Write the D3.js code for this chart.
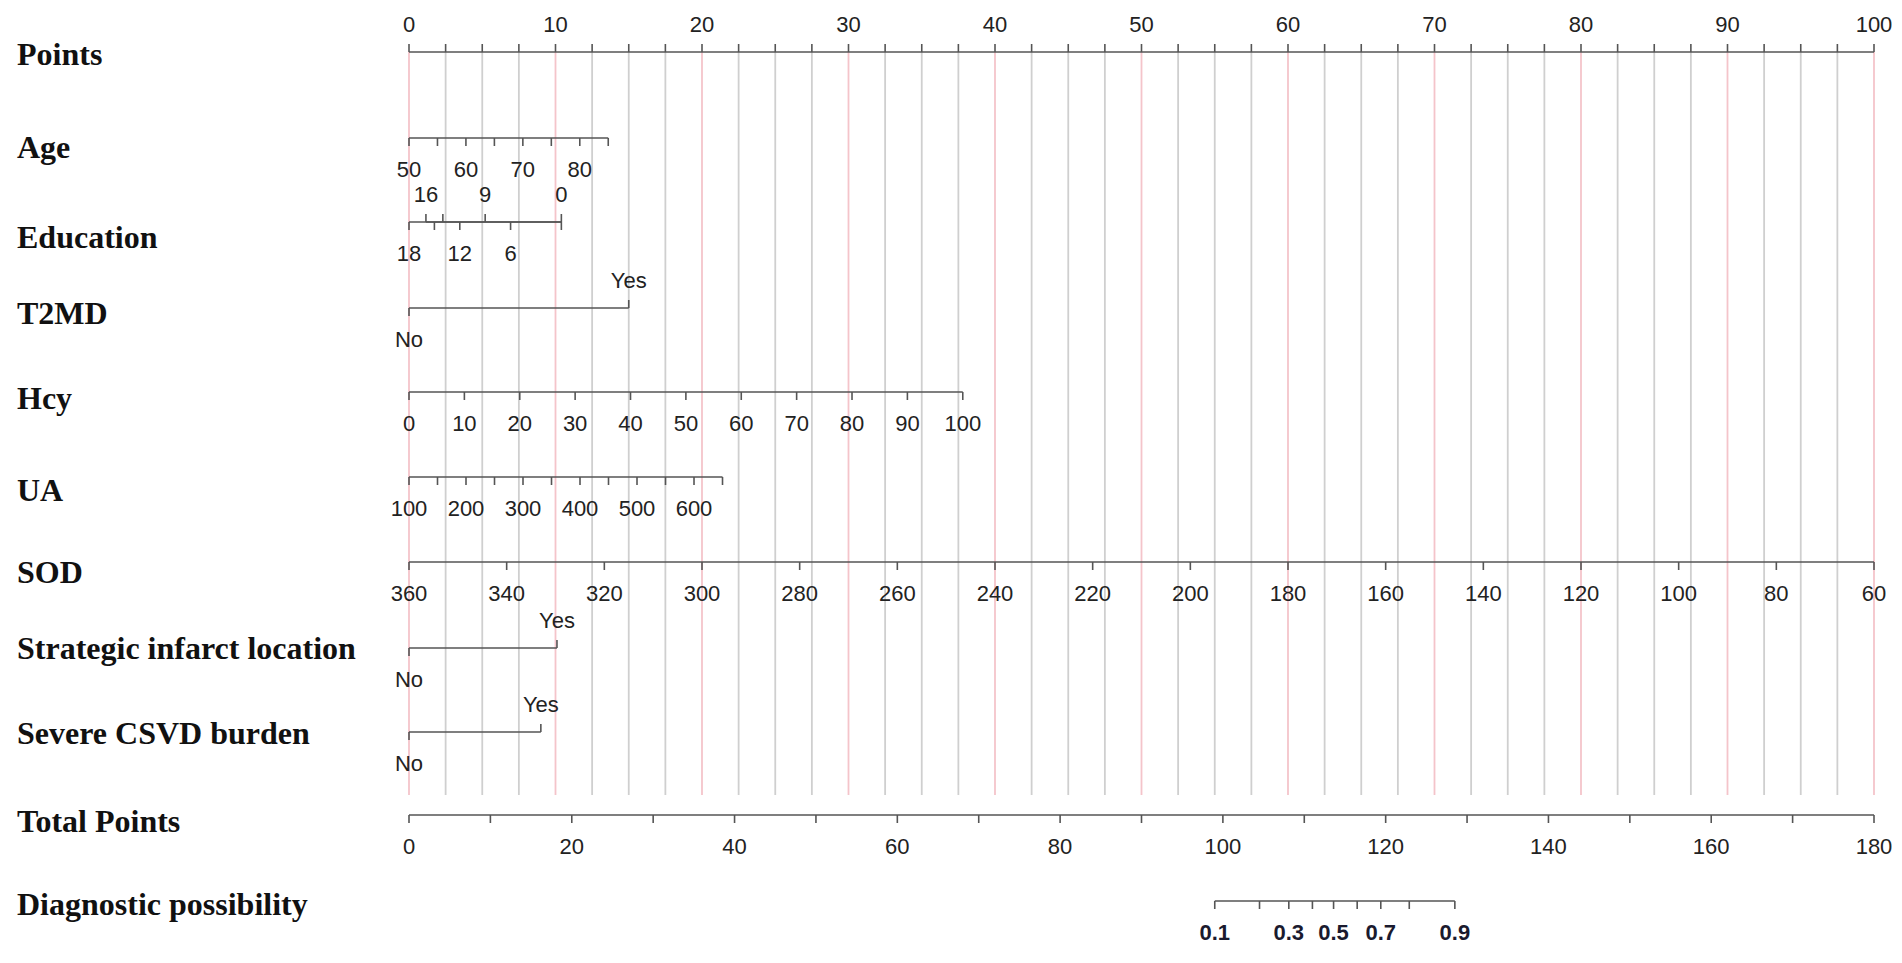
<!DOCTYPE html>
<html>
<head>
<meta charset="utf-8">
<script src="https://cdn.jsdelivr.net/npm/d3@7"></script>
<style>
  body { margin: 0; background: #fff; }
  .tick-label { font-family: Arial, "Liberation Sans", sans-serif; font-size: 22px; fill: #222; }
  .row-label { font-family: "Liberation Serif", "Times New Roman", serif; font-weight: bold; font-size: 32px; fill: #111; }
</style>
</head>
<body>
<svg id="chart" width="1902" height="963"></svg>
<script>
// nomogram data
var rowNames = ['Points', 'Age', 'Education', 'T2MD', 'Hcy', 'UA', 'SOD',
  'Strategic infarct location', 'Severe CSVD burden', 'Total Points', 'Diagnostic possibility'];

var ageValues = [50, 55, 60, 65, 70, 75, 80, 85];
var ageLabels = [50, 60, 70, 80];
var ageDomain = [50, 85];
var agePoints = [0, 13.6];

var eduBelow = [18, 15, 12, 6];
var eduBelowLabels = [18, 12, 6];
var eduAbove = [16, 14, 9, 0];
var eduAboveLabels = [16, 9, 0];
var eduDomain = [18, 0];
var eduPoints = [0, 10.4];

var t2mdPoints = [0, 15.0];       // No, Yes
var strategicPoints = [0, 10.1];
var csvdPoints = [0, 9.0];

var hcyValues = [0, 10, 20, 30, 40, 50, 60, 70, 80, 90, 100];
var hcyDomain = [0, 100];
var hcyPoints = [0, 37.8];

var uaValues = [100, 150, 200, 250, 300, 350, 400, 450, 500, 550, 600, 650];
var uaLabels = [100, 200, 300, 400, 500, 600];
var uaDomain = [100, 650];
var uaPoints = [0, 21.4];

var sodValues = [360, 340, 320, 300, 280, 260, 240, 220, 200, 180, 160, 140, 120, 100, 80, 60];
var sodDomain = [360, 60];
var sodPoints = [0, 100];

var totalValues = d3.range(0, 181, 10);
var totalLabels = d3.range(0, 181, 20);

var probValues = [0.1, 0.2, 0.3, 0.4, 0.5, 0.6, 0.7, 0.8, 0.9];
var probTotals = [99.0, 104.5, 108.1, 111.0, 113.6, 116.5, 119.4, 122.9, 128.5];
var probLabels = [0.1, 0.3, 0.5, 0.7, 0.9];

// layout
var rowLineY = [52, 138, 222, 308, 392, 477, 562, 648, 732, 815, 901];
var rowTextY = [65, 158, 248, 324, 409, 501, 583, 659, 744, 832, 915];
var tickLen = 8;

var svg = d3.select('#chart');
var x = d3.scaleLinear().domain([0, 100]).range([409, 1874]);
var xTotal = d3.scaleLinear().domain([0, 180]).range([409, 1874]);

// vertical grid
svg.append('g').selectAll('line')
  .data(d3.range(0, 100.1, 2.5))
  .join('line')
  .attr('x1', d => x(d)).attr('x2', d => x(d))
  .attr('y1', rowLineY[0]).attr('y2', 795)
  .attr('stroke', d => d % 10 === 0 ? '#f4c4ca' : '#cfcfcf')
  .attr('stroke-width', 1.8);

// row labels
svg.append('g').selectAll('text')
  .data(rowNames)
  .join('text')
  .attr('class', 'row-label')
  .attr('x', 17)
  .attr('y', (d, i) => rowTextY[i])
  .text(d => d);

function drawAxis(y, xs, ticks, labels, side, fmt, bold) {
  var g = svg.append('g');
  var xExt = d3.extent(ticks.map(xs));
  g.append('line')
    .attr('x1', xExt[0]).attr('x2', xExt[1])
    .attr('y1', y).attr('y2', y)
    .attr('stroke', '#555').attr('stroke-width', 1.6);
  var dir = side === 'above' ? -1 : 1;
  g.selectAll('.tk').data(ticks).join('line')
    .attr('x1', xs).attr('x2', xs)
    .attr('y1', y).attr('y2', y + dir * tickLen)
    .attr('stroke', '#555').attr('stroke-width', 1.6);
  g.selectAll('text').data(labels).join('text')
    .attr('class', 'tick-label')
    .attr('x', xs)
    .attr('y', side === 'above' ? y - 20 : y + 39)
    .attr('text-anchor', 'middle')
    .style('font-weight', bold ? 'bold' : null)
    .style('fill', bold ? '#1a1a2e' : null)
    .text(fmt || (d => d));
}

function mapped(domain, pts) {
  var s = d3.scaleLinear().domain(domain).range(pts);
  return d => x(s(d));
}

// Points
drawAxis(rowLineY[0], x, d3.range(0, 100.1, 2.5), d3.range(0, 101, 10), 'above');
// Age
drawAxis(rowLineY[1], mapped(ageDomain, agePoints), ageValues, ageLabels, 'below');
// Education (ticks on both sides)
var eduX = mapped(eduDomain, eduPoints);
drawAxis(rowLineY[2], eduX, eduBelow.concat([0]), eduBelowLabels, 'below');
drawAxis(rowLineY[2], eduX, eduAbove, eduAboveLabels, 'above');

// binary rows
function drawBinary(y, pts) {
  var g = svg.append('g');
  g.append('line').attr('x1', x(pts[0])).attr('x2', x(pts[1]))
    .attr('y1', y).attr('y2', y).attr('stroke', '#555').attr('stroke-width', 1.6);
  g.append('line').attr('x1', x(pts[0])).attr('x2', x(pts[0]))
    .attr('y1', y).attr('y2', y + tickLen).attr('stroke', '#555').attr('stroke-width', 1.6);
  g.append('line').attr('x1', x(pts[1])).attr('x2', x(pts[1]))
    .attr('y1', y).attr('y2', y - tickLen).attr('stroke', '#555').attr('stroke-width', 1.6);
  g.append('text').attr('class', 'tick-label').attr('x', x(pts[0]))
    .attr('y', y + 39).attr('text-anchor', 'middle').text('No');
  g.append('text').attr('class', 'tick-label').attr('x', x(pts[1]))
    .attr('y', y - 20).attr('text-anchor', 'middle').text('Yes');
}
drawBinary(rowLineY[3], t2mdPoints);
drawAxis(rowLineY[4], mapped(hcyDomain, hcyPoints), hcyValues, hcyValues, 'below');
drawAxis(rowLineY[5], mapped(uaDomain, uaPoints), uaValues, uaLabels, 'below');
drawAxis(rowLineY[6], mapped(sodDomain, sodPoints), sodValues, sodValues, 'below');
drawBinary(rowLineY[7], strategicPoints);
drawBinary(rowLineY[8], csvdPoints);

// Total points
drawAxis(rowLineY[9], xTotal, totalValues, totalLabels, 'below');

// Diagnostic possibility
var probX = d3.scaleLinear().domain(probValues).range(probTotals.map(xTotal));
drawAxis(rowLineY[10], probX, probValues, probLabels, 'below', d => d.toFixed(1), true);
</script>
</body>
</html>
